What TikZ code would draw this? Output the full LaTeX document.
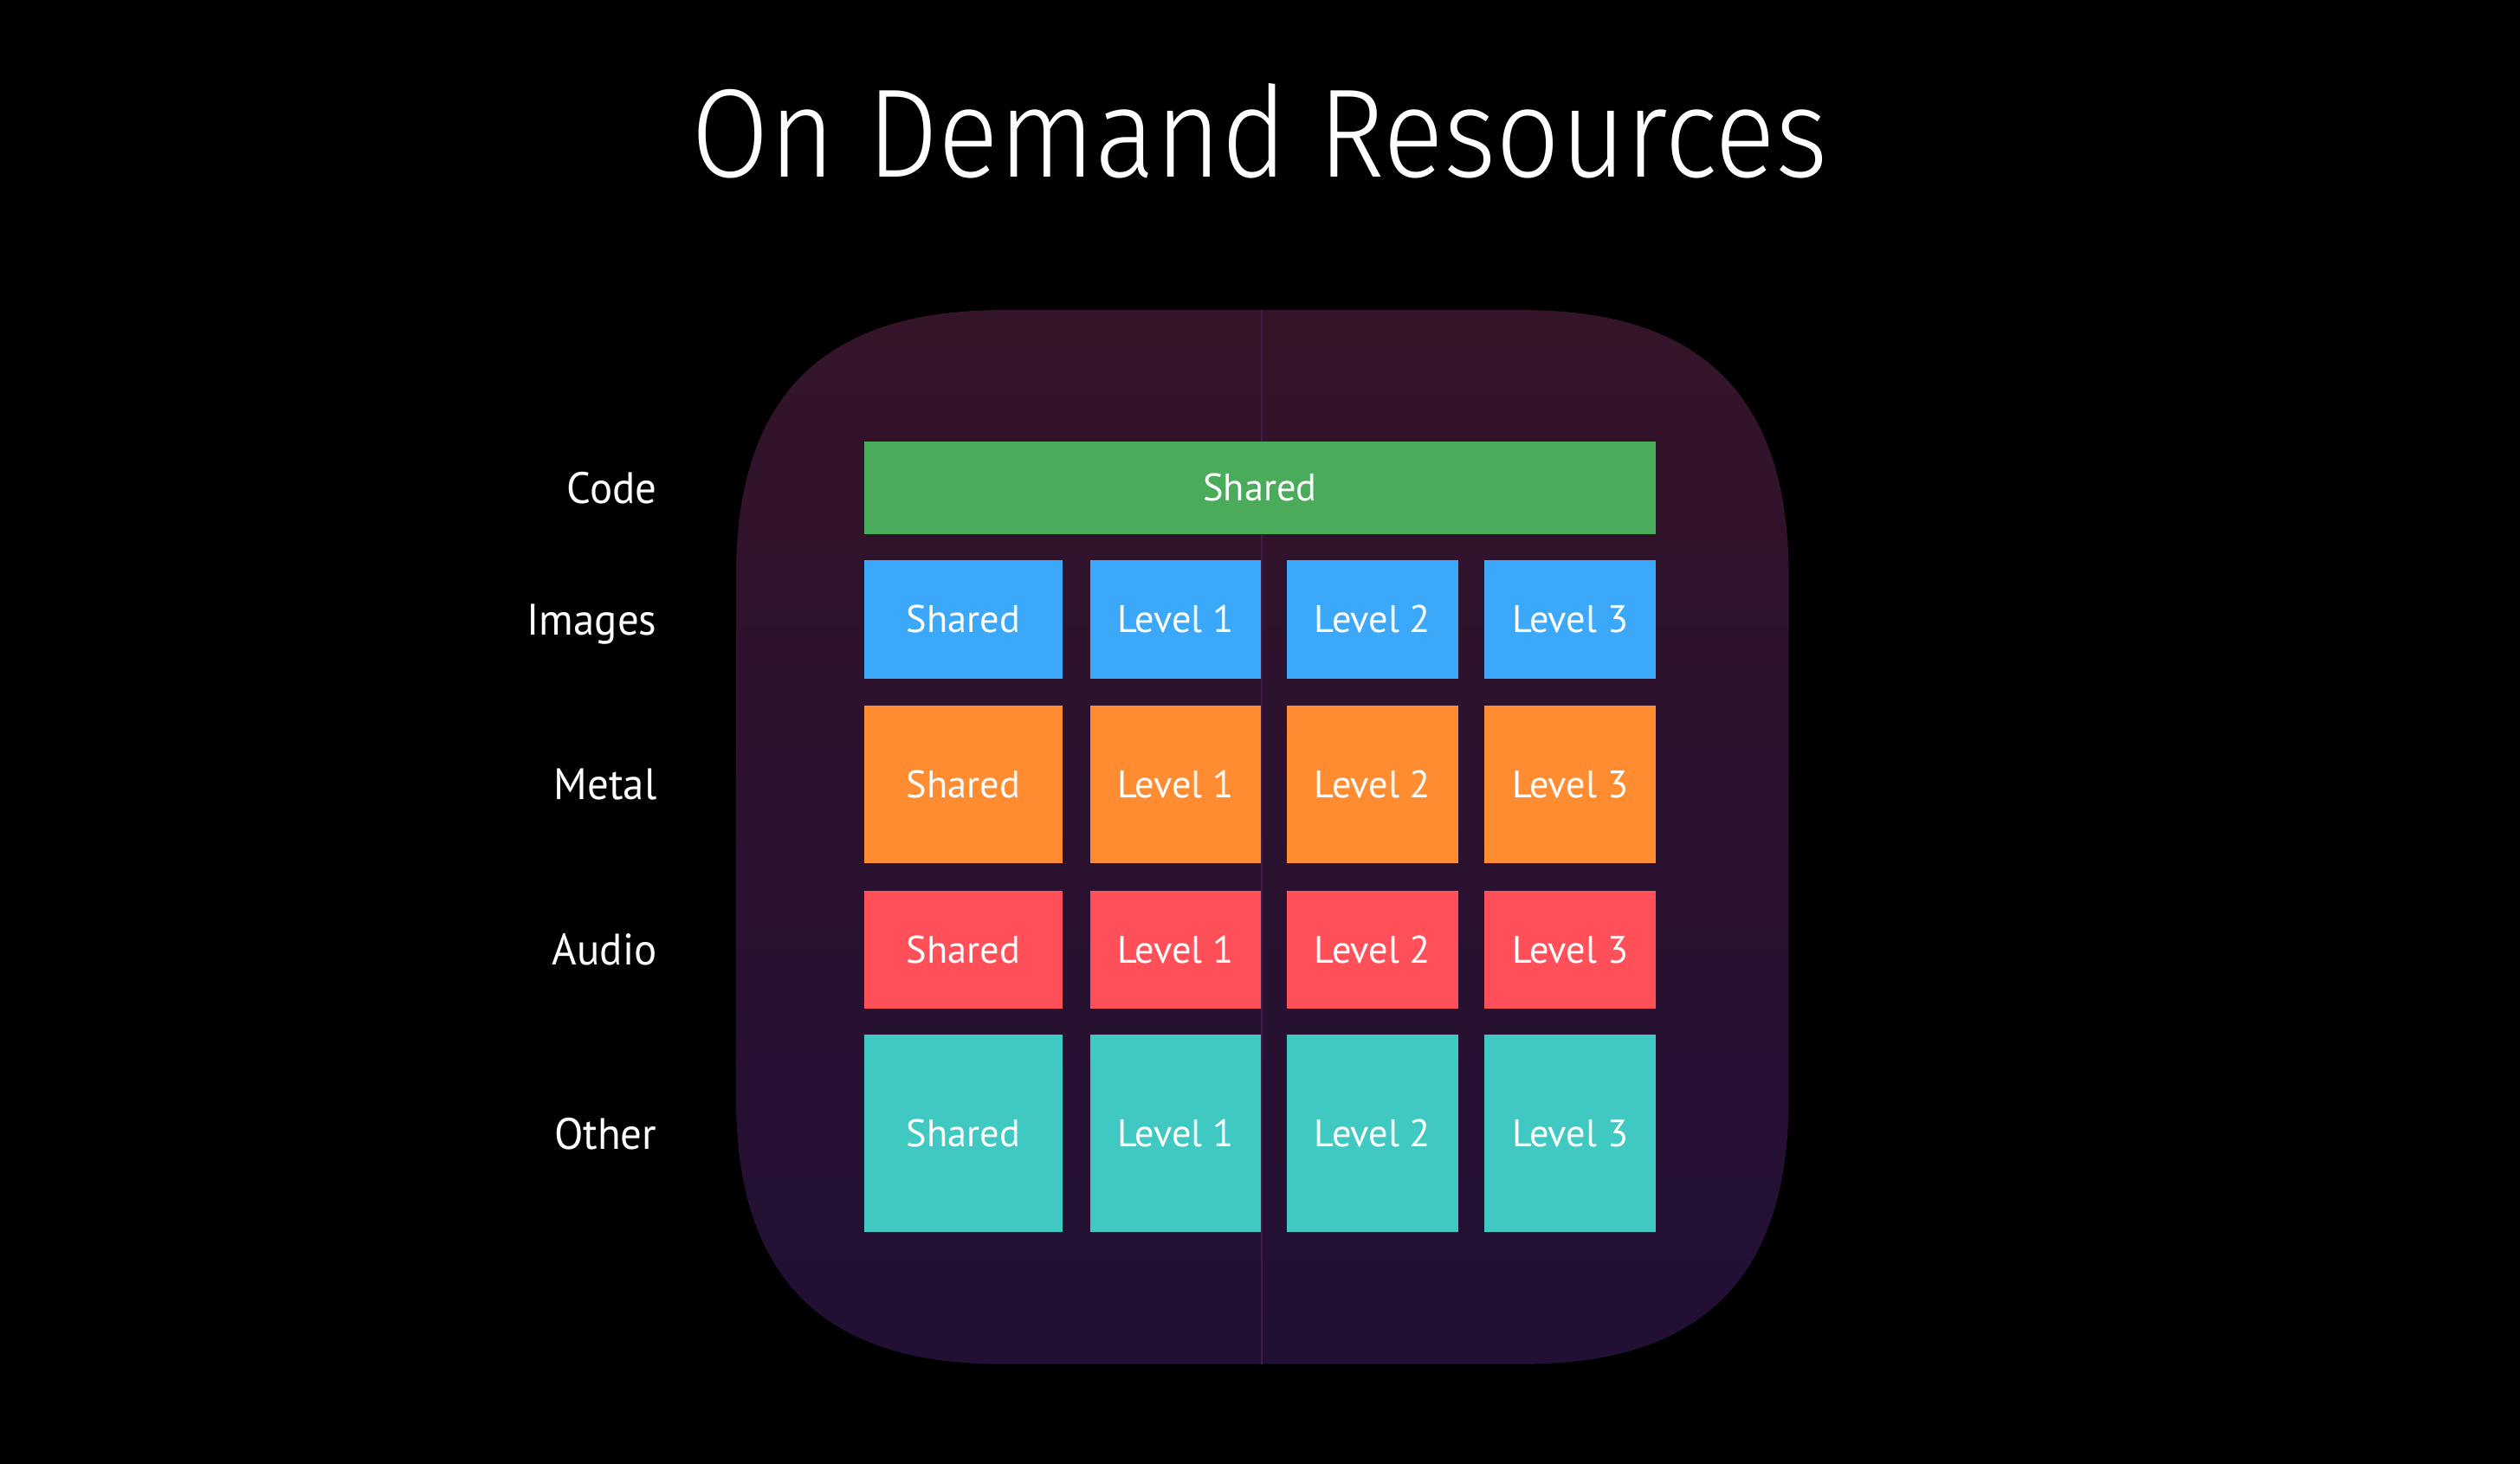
\documentclass[tikz,border=0pt]{standalone}
\usepackage{fontspec}
\setmainfont{PT Sans}
\newfontfamily\titlefont{Fira Sans Light}[FakeStretch=0.895]
\newfontfamily\labelfont{PT Sans}[FakeStretch=0.96]
\usepackage{xcolor}
\definecolor{codegreen}{RGB}{74,171,91}
\definecolor{imageblue}{RGB}{59,168,250}
\definecolor{metalorange}{RGB}{255,140,48}
\definecolor{audiored}{RGB}{255,79,88}
\definecolor{otherteal}{RGB}{64,200,194}
\definecolor{icontop}{RGB}{52,20,41}
\definecolor{iconbottom}{RGB}{33,15,52}
\definecolor{divider}{RGB}{66,28,72}
\tikzset{
	tile/.style={inner sep=0pt, text=white, font=\fontsize{13.6}{16}\selectfont,
			text height=0.334cm, text depth=0pt, minimum width=2.13cm},
	sharedtile/.style={minimum width=2.46cm},
	coderow/.style={tile, fill=codegreen, minimum width=9.85cm, minimum height=1.15cm},
	imagerow/.style={tile, fill=imageblue, minimum height=1.47cm},
	metalrow/.style={tile, fill=metalorange, minimum height=1.96cm},
	audiorow/.style={tile, fill=audiored, minimum height=1.47cm},
	otherrow/.style={tile, fill=otherteal, minimum height=2.46cm},
	rowlabel/.style={inner sep=0pt, anchor=east, text=white, font=\labelfont\fontsize{15.6}{18}\selectfont,
			text height=0.384cm, text depth=0pt}
}

\begin{document}
\begin{tikzpicture}[scale=2]
        \useasboundingbox [fill=black] (0, 0) rectangle (15.68, 9.11);
        \node[text=white, inner sep=0pt, font=\titlefont\fontsize{44.6}{50}\selectfont, text height=1.08cm, text depth=0pt] (title) at (7.84, 8.28) {On Demand Resources};
        % icon background
        \path [top color=icontop, bottom color=iconbottom] (6.23, 7.18) -- (9.48, 7.18) .. controls (10.59, 7.18) and (11.13, 6.64) .. (11.13, 5.53) -- (11.13, 2.27) .. controls (11.13, 1.16) and (10.59, 0.62) .. (9.48, 0.62) -- (6.23, 0.62) .. controls (5.12, 0.62) and (4.58, 1.16) .. (4.58, 2.27) -- (4.58, 5.53) .. controls (4.58, 6.64) and (5.12, 7.18) .. cycle;
        \draw [divider, line width=0.5pt] (7.85, 7.18) -- (7.85, 0.62);
        % rows
        \node[coderow] (code) at (7.84, 6.075) {Shared};
        \node[imagerow, sharedtile] (imgshared) at (5.995, 5.255) {Shared};
        \node[imagerow] (imglevel1) at (7.315, 5.255) {Level 1};
        \node[imagerow] (imglevel2) at (8.54, 5.255) {Level 2};
        \node[imagerow] (imglevel3) at (9.77, 5.255) {Level 3};
        \node[metalrow, sharedtile] (metalshared) at (5.995, 4.23) {Shared};
        \node[metalrow] (metallevel1) at (7.315, 4.23) {Level 1};
        \node[metalrow] (metallevel2) at (8.54, 4.23) {Level 2};
        \node[metalrow] (metallevel3) at (9.77, 4.23) {Level 3};
        \node[audiorow, sharedtile] (audioshared) at (5.995, 3.2) {Shared};
        \node[audiorow] (audiolevel1) at (7.315, 3.2) {Level 1};
        \node[audiorow] (audiolevel2) at (8.54, 3.2) {Level 2};
        \node[audiorow] (audiolevel3) at (9.77, 3.2) {Level 3};
        \node[otherrow, sharedtile] (othershared) at (5.995, 2.055) {Shared};
        \node[otherrow] (otherlevel1) at (7.315, 2.055) {Level 1};
        \node[otherrow] (otherlevel2) at (8.54, 2.055) {Level 2};
        \node[otherrow] (otherlevel3) at (9.77, 2.055) {Level 3};
        % labels
        \node[rowlabel] (codelabel) at (4.09, 6.075) {Code};
        \node[rowlabel] (imageslabel) at (4.09, 5.255) {Images};
        \node[rowlabel] (metallabel) at (4.09, 4.23) {Metal};
        \node[rowlabel] (audiolabel) at (4.09, 3.2) {Audio};
        \node[rowlabel] (otherlabel) at (4.09, 2.055) {Other};
    \end{tikzpicture}
\end{document}
